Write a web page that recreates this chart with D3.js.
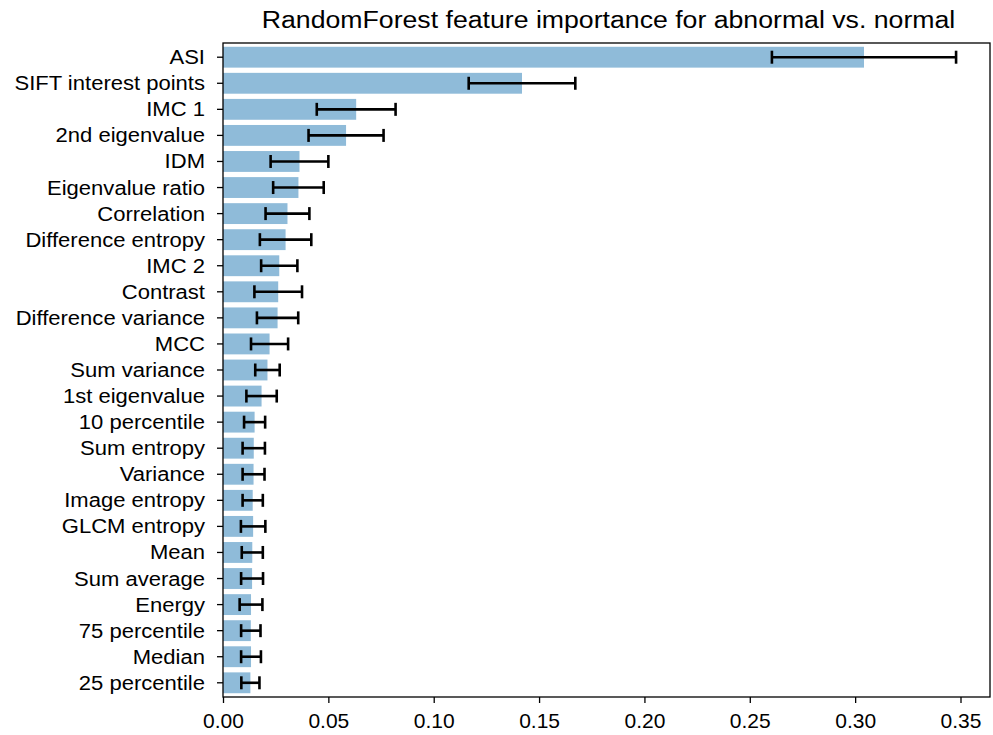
<!DOCTYPE html>
<html>
<head>
<meta charset="utf-8">
<script src="https://cdn.jsdelivr.net/npm/d3@7"></script>
<style>
  body { margin: 0; background: #fff; }
  text { font-family: "Liberation Sans", Arial, sans-serif; }
</style>
</head>
<body>
<div id="chart"></div>
<script>
const features = ["ASI", "SIFT interest points", "IMC 1", "2nd eigenvalue", "IDM",
  "Eigenvalue ratio", "Correlation", "Difference entropy", "IMC 2", "Contrast",
  "Difference variance", "MCC", "Sum variance", "1st eigenvalue", "10 percentile",
  "Sum entropy", "Variance", "Image entropy", "GLCM entropy", "Mean",
  "Sum average", "Energy", "75 percentile", "Median", "25 percentile"];

const importance = [0.3042, 0.1419, 0.0632, 0.0584, 0.0363,
  0.0358, 0.0306, 0.0297, 0.0267, 0.0262,
  0.0259, 0.0221, 0.0211, 0.0183, 0.0150,
  0.0146, 0.0145, 0.0141, 0.0143, 0.0139,
  0.0138, 0.0133, 0.0132, 0.0133, 0.0130];

const stdev = [0.0437, 0.0253, 0.0187, 0.0178, 0.0137,
  0.0120, 0.0104, 0.0122, 0.0086, 0.0113,
  0.0098, 0.0088, 0.0058, 0.0072, 0.0050,
  0.0053, 0.0052, 0.0048, 0.0058, 0.0050,
  0.0052, 0.0054, 0.0046, 0.0047, 0.0043];

const xTicks = [0, 0.05, 0.1, 0.15, 0.2, 0.25, 0.3, 0.35];

var svgWidth = 993;
var svgHeight = 735;
var margin = {top: 43, right: 3, bottom: 38, left: 223};
var width = svgWidth - margin.left - margin.right;
var height = svgHeight - margin.top - margin.bottom;

var svg = d3.select("#chart")
  .append("svg")
  .attr("width", svgWidth)
  .attr("height", svgHeight);

var g = svg.append("g")
  .attr("transform", "translate(" + margin.left + "," + margin.top + ")");

var x = d3.scaleLinear()
  .domain([0, 0.364])
  .range([0, width]);

var y = d3.scaleBand()
  .domain(features)
  .range([0, height])
  .paddingInner(0.2)
  .paddingOuter(0.145);

// bars
g.selectAll(".bar")
  .data(features)
  .enter().append("rect")
  .attr("class", "bar")
  .attr("x", x(0))
  .attr("y", function(d) { return y(d); })
  .attr("width", function(d, i) { return x(importance[i]) - x(0); })
  .attr("height", y.bandwidth())
  .attr("fill", "#8fbbd9");

// error bars
var err = g.selectAll(".err")
  .data(features)
  .enter().append("g")
  .attr("class", "err")
  .attr("transform", function(d) { return "translate(0," + (y(d) + y.bandwidth() / 2) + ")"; });

err.append("line")
  .attr("x1", function(d, i) { return x(importance[i] - stdev[i]); })
  .attr("x2", function(d, i) { return x(importance[i] + stdev[i]); })
  .attr("stroke", "#000")
  .attr("stroke-width", 2.6);

[-1, 1].forEach(function(s) {
  err.append("line")
    .attr("x1", function(d, i) { return x(importance[i] + s * stdev[i]); })
    .attr("x2", function(d, i) { return x(importance[i] + s * stdev[i]); })
    .attr("y1", -6.5)
    .attr("y2", 6.5)
    .attr("stroke", "#000")
    .attr("stroke-width", 2.6);
});

// axes
var xAxis = g.append("g")
  .attr("transform", "translate(0," + height + ")")
  .call(d3.axisBottom(x).tickValues(xTicks).tickFormat(d3.format(".2f")).tickSize(6).tickSizeOuter(0));

var yAxis = g.append("g")
  .call(d3.axisLeft(y).tickSize(6).tickSizeOuter(0));

[xAxis, yAxis].forEach(function(a) {
  a.select(".domain").remove();
  a.selectAll("line").attr("stroke", "#000").attr("stroke-width", 1.3);
});
xAxis.selectAll("text")
  .attr("fill", "#000")
  .attr("y", 31)
  .attr("dy", 0)
  .style("font-size", "21px");
yAxis.selectAll("text")
  .attr("fill", "#000")
  .attr("x", 0)
  .attr("dy", "0.36em")
  .attr("transform", "translate(-18,0) scale(1.13,1)")
  .style("font-size", "19.5px");

// frame
g.append("rect")
  .attr("x", 0)
  .attr("y", 0)
  .attr("width", width)
  .attr("height", height)
  .attr("fill", "none")
  .attr("stroke", "#000")
  .attr("stroke-width", 1.3);

// title
svg.append("text")
  .attr("transform", "translate(" + (margin.left + width / 2 + 2) + ",28) scale(1.16,1)")
  .attr("text-anchor", "middle")
  .style("font-size", "23px")
  .attr("fill", "#000")
  .text("RandomForest feature importance for abnormal vs. normal");
</script>
</body>
</html>
